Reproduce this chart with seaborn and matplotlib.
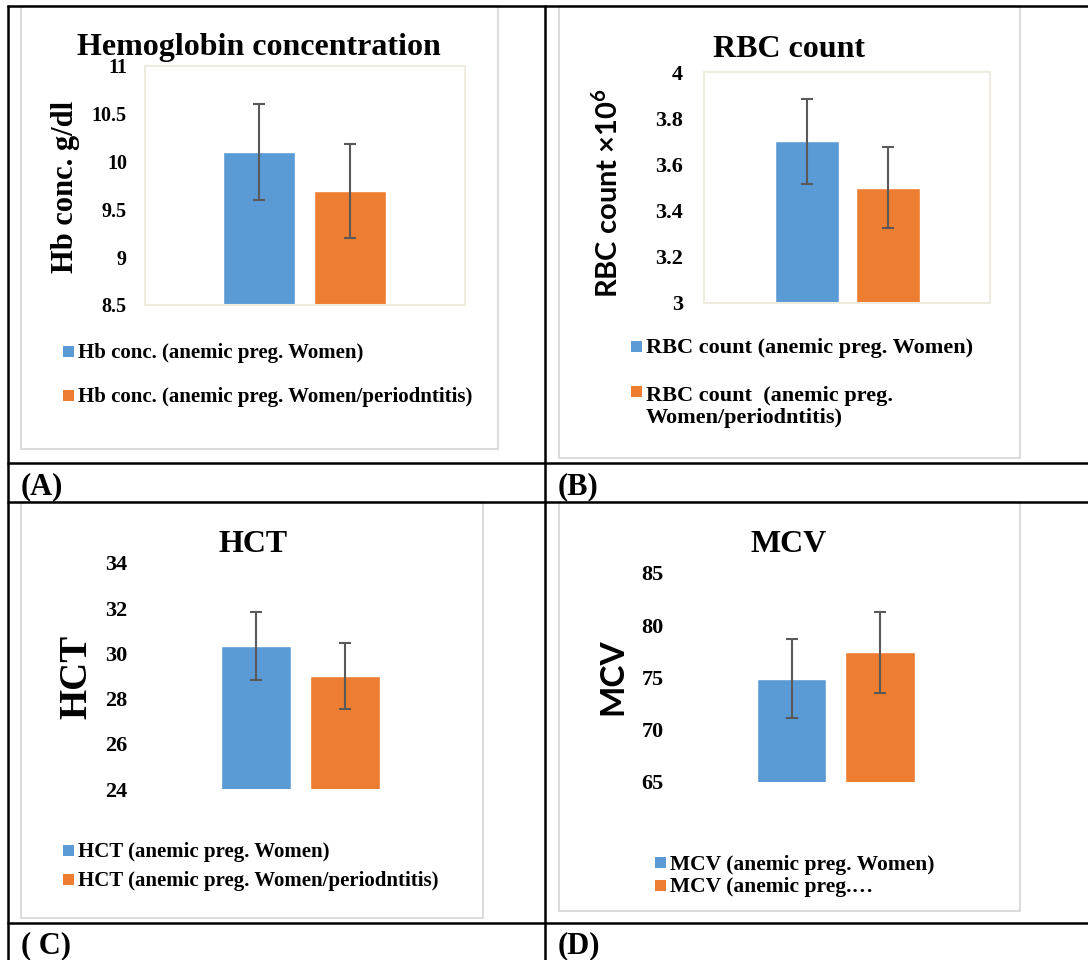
import matplotlib
matplotlib.use("Agg")
import matplotlib.pyplot as plt
import seaborn as sns
from matplotlib.patches import Rectangle
from matplotlib.lines import Line2D
from matplotlib.ticker import FuncFormatter

# ---------------- data ----------------
series_colors = ["#5B9BD5", "#ED7D31"]

hb_labels = ["Hb conc. (anemic preg. Women)", "Hb conc. (anemic preg. Women/periodntitis)"]
hb_means = [10.10, 9.69]
hb_sd = [0.50, 0.49]
hb_ticks = [8.5, 9, 9.5, 10, 10.5, 11]

rbc_labels = ["RBC count (anemic preg. Women)", "RBC count  (anemic preg.\nWomen/periodntitis)"]
rbc_means = [3.70, 3.50]
rbc_sd = [0.185, 0.175]
rbc_ticks = [3, 3.2, 3.4, 3.6, 3.8, 4]

hct_labels = ["HCT (anemic preg. Women)", "HCT (anemic preg. Women/periodntitis)"]
hct_means = [30.33, 29.0]
hct_sd = [1.52, 1.45]
hct_ticks = [24, 26, 28, 30, 32, 34]

mcv_labels = ["MCV (anemic preg. Women)", "MCV (anemic preg.…"]
mcv_means = [74.9, 77.4]
mcv_sd = [3.75, 3.85]
mcv_ticks = [65, 70, 75, 80, 85]

titles = ["Hemoglobin concentration", "RBC count", "HCT", "MCV"]
ylabels = ["Hb conc. g/dl", r"RBC count ×10$^{\mathbf{6}}$", "HCT", "MCV"]
panel_tags = ["(A)", "(B)", "( C)", "(D)"]

# ---------------- style ----------------
sns.set_style("white")
plt.rcParams['font.family'] = ['Liberation Serif', 'DejaVu Serif']
plt.rcParams['font.weight'] = 'bold'
plt.rcParams['text.color'] = 'black'
plt.rcParams['axes.labelcolor'] = 'black'
plt.rcParams['xtick.color'] = 'black'
plt.rcParams['ytick.color'] = 'black'
plt.rcParams['mathtext.fontset'] = 'custom'
plt.rcParams['mathtext.bf'] = 'Lato:bold'
plt.rcParams['mathtext.rm'] = 'Lato:bold'

W, H = 1088, 960
fig = plt.figure(figsize=(W / 100, H / 100), dpi=100)
fig.patch.set_facecolor("white")


def fx(x):
    return x / W


def fy(y):
    return 1 - y / H


def hline(y, x0, x1, lw=1.8):
    fig.add_artist(Line2D([fx(x0), fx(x1)], [fy(y), fy(y)], transform=fig.transFigure,
                          color="black", lw=lw, solid_capstyle="butt"))


def vline(x, y0, y1, lw=1.8):
    fig.add_artist(Line2D([fx(x), fx(x)], [fy(y0), fy(y1)], transform=fig.transFigure,
                          color="black", lw=lw, solid_capstyle="butt"))


def frame(x0, y0, x1, y1):
    fig.add_artist(Rectangle((fx(x0), fy(y1)), (x1 - x0) / W, (y1 - y0) / H,
                             transform=fig.transFigure, fill=False, ec="#D9D9D9", lw=1.3))


# table grid
for y in [6, 463, 502, 923]:
    hline(y, 7, 1088)
vline(8, 5, 960)
vline(545, 5, 960)

# chart frames
frame(21, 6, 498, 449)
frame(559, 6, 1020, 458)
frame(21, 502, 483, 918)
frame(559, 502, 1020, 911)


def panel(labels, means, sds, ticks, box, centers, tick_fs, tick_pad, border):
    L, T, R, B = box
    ax = fig.add_axes([fx(L), fy(B), (R - L) / W, (B - T) / H])
    sns.barplot(x=labels, y=means, hue=labels, palette=series_colors, width=0.79,
                saturation=1, legend=False, ax=ax)
    ax.errorbar([0, 1], means, yerr=sds, fmt="none", ecolor="#595959",
                elinewidth=1.5, capsize=4.6, capthick=1.5, zorder=5)
    s = centers[1] - centers[0]
    ax.set_xlim((L - centers[0]) / s, (R - centers[0]) / s)
    ax.set_ylim(ticks[0], ticks[-1])
    ax.set_yticks(ticks)
    ax.yaxis.set_major_formatter(FuncFormatter(lambda v, p: f"{v:g}"))
    ax.tick_params(left=False, bottom=False, labelbottom=False, pad=tick_pad,
                   labelsize=tick_fs, labelcolor="black")
    for lab in ax.get_yticklabels():
        lab.set_fontweight("bold")
        lab.set_family("Liberation Serif")
    ax.set_xlabel("")
    ax.set_ylabel("")
    for sp in ax.spines.values():
        if border:
            sp.set_color("#EEEBE0")
            sp.set_linewidth(1.5)
        else:
            sp.set_visible(False)
    ax.set_facecolor("none")
    return ax


panel(hb_labels, hb_means, hb_sd, hb_ticks, (145, 66, 465, 305), (259, 350), 14.5, 9.5, True)
panel(rbc_labels, rbc_means, rbc_sd, rbc_ticks, (704, 72, 990, 303), (807, 888), 16, 11.5, True)
panel(hct_labels, hct_means, hct_sd, hct_ticks, (140, 563, 461, 789), (256, 345), 16, 5.5, False)
panel(mcv_labels, mcv_means, mcv_sd, mcv_ticks, (676, 573, 996, 782), (791.5, 880), 16, 5.5, False)

# titles
for t, (x, y) in zip(titles, [(259, 55), (789, 57), (253, 552), (789, 552)]):
    fig.text(fx(x), fy(y), t, ha="center", va="baseline", fontsize=23,
             fontweight="bold", family="Liberation Serif")

# y labels
fig.text(fx(65), fy(187), ylabels[0], rotation=90, ha="center", va="center",
         fontsize=22, fontweight="bold", family="Liberation Serif")
fig.text(fx(607), fy(193), ylabels[1], rotation=90, ha="center", va="center",
         fontsize=21, fontweight="bold", family="Lato")
fig.text(fx(77), fy(677), ylabels[2], rotation=90, ha="center", va="center",
         fontsize=28, fontweight="bold", family="Liberation Serif")
fig.text(fx(613), fy(677), ylabels[3], rotation=90, ha="center", va="center",
         fontsize=24, fontweight="bold", family="Lato")


# legends (drawn manually to match Excel layout)
def legend(labels, sq_x, sq_centers, baselines, fs, sq=11):
    for lab, c, cy, by in zip(labels, series_colors, sq_centers, baselines):
        fig.add_artist(Rectangle((fx(sq_x), fy(cy + sq / 2)), sq / W, sq / H,
                                 transform=fig.transFigure, fc=c, ec="none"))
        fig.text(fx(sq_x + sq + 4), fy(by), lab, ha="left", va="baseline", fontsize=fs,
                 fontweight="bold", family="Liberation Serif", linespacing=1.15)


legend(hb_labels, 63, [351.5, 395.5], [358, 402], 15)
legend(rbc_labels, 631, [346.5, 391.5], [353, 423], 16)
legend(hct_labels, 63, [850.5, 879.5], [857, 886], 15)
legend(mcv_labels, 655, [862.5, 885.5], [870, 892], 15.5)

# panel tags
for tag, (x, y) in zip(panel_tags, [(21, 494), (558, 494), (21, 953), (558, 953)]):
    fig.text(fx(x), fy(y), tag, ha="left", va="baseline", fontsize=22,
             fontweight="bold", family="Liberation Serif")

fig.savefig("out.png", dpi=100, facecolor="white")
